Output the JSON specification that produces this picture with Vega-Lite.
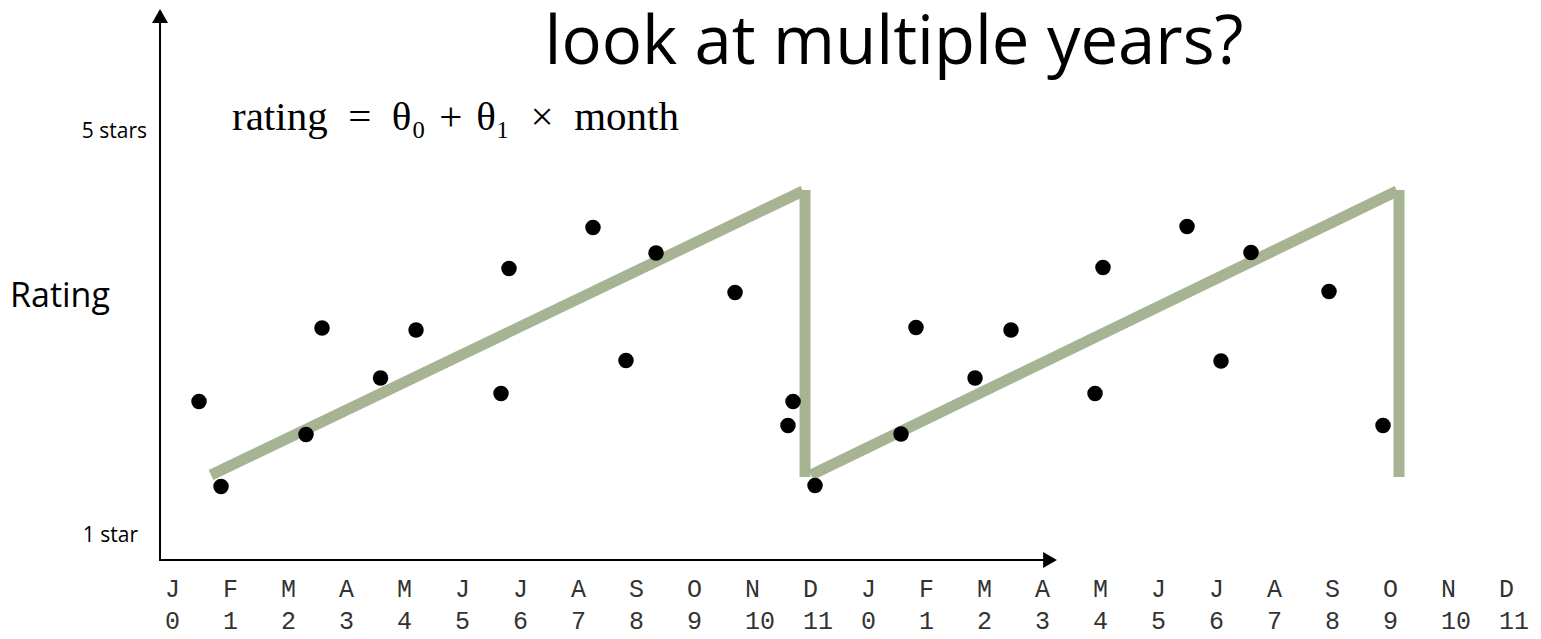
{
  "$schema": "https://vega.github.io/schema/vega-lite/v6.json",
  "width": 1541,
  "height": 639,
  "padding": 0,
  "autosize": {"type": "fit", "contains": "padding"},
  "background": "white",
  "config": {"view": {"stroke": null}},
  "datasets": {
    "pts": [
      {"month": 0.448, "rating": 2.332},
      {"month": 0.828, "rating": 1.490},
      {"month": 2.293, "rating": 2.005},
      {"month": 2.569, "rating": 3.059},
      {"month": 3.578, "rating": 2.564},
      {"month": 4.190, "rating": 3.040},
      {"month": 5.655, "rating": 2.411},
      {"month": 5.793, "rating": 3.649},
      {"month": 7.241, "rating": 4.054},
      {"month": 7.810, "rating": 2.738},
      {"month": 8.328, "rating": 3.802},
      {"month": 9.690, "rating": 3.411},
      {"month": 10.603, "rating": 2.094},
      {"month": 10.690, "rating": 2.332},
      {"month": 11.069, "rating": 1.500},
      {"month": 12.552, "rating": 2.010},
      {"month": 12.810, "rating": 3.064},
      {"month": 13.828, "rating": 2.564},
      {"month": 14.448, "rating": 3.040},
      {"month": 15.897, "rating": 2.411},
      {"month": 16.034, "rating": 3.658},
      {"month": 17.483, "rating": 4.064},
      {"month": 18.069, "rating": 2.733},
      {"month": 18.586, "rating": 3.807},
      {"month": 19.931, "rating": 3.421},
      {"month": 20.862, "rating": 2.094}
    ],
    "fit": [
      {"seg": "a", "month": 0.655, "rating": 1.604},
      {"seg": "a", "month": 10.862, "rating": 4.416},
      {"seg": "b", "month": 10.897, "rating": 4.426},
      {"seg": "b", "month": 10.897, "rating": 1.584},
      {"seg": "c", "month": 11.0, "rating": 1.604},
      {"seg": "c", "month": 21.103, "rating": 4.416},
      {"seg": "d", "month": 21.138, "rating": 4.426},
      {"seg": "d", "month": 21.138, "rating": 1.584}
    ],
    "labels": [
      {"idx": 0, "letter": "J", "num": "0"},
      {"idx": 1, "letter": "F", "num": "1"},
      {"idx": 2, "letter": "M", "num": "2"},
      {"idx": 3, "letter": "A", "num": "3"},
      {"idx": 4, "letter": "M", "num": "4"},
      {"idx": 5, "letter": "J", "num": "5"},
      {"idx": 6, "letter": "J", "num": "6"},
      {"idx": 7, "letter": "A", "num": "7"},
      {"idx": 8, "letter": "S", "num": "8"},
      {"idx": 9, "letter": "O", "num": "9"},
      {"idx": 10, "letter": "N", "num": "10"},
      {"idx": 11, "letter": "D", "num": "11"},
      {"idx": 12, "letter": "J", "num": "0"},
      {"idx": 13, "letter": "F", "num": "1"},
      {"idx": 14, "letter": "M", "num": "2"},
      {"idx": 15, "letter": "A", "num": "3"},
      {"idx": 16, "letter": "M", "num": "4"},
      {"idx": 17, "letter": "J", "num": "5"},
      {"idx": 18, "letter": "J", "num": "6"},
      {"idx": 19, "letter": "A", "num": "7"},
      {"idx": 20, "letter": "S", "num": "8"},
      {"idx": 21, "letter": "O", "num": "9"},
      {"idx": 22, "letter": "N", "num": "10"},
      {"idx": 23, "letter": "D", "num": "11"}
    ]
  },
  "layer": [
    {
      "data": {"values": [{}]},
      "mark": {"type": "rule", "color": "black", "strokeWidth": 2, "strokeCap": "square"},
      "encoding": {
        "x": {"datum": -0.224, "type": "quantitative", "scale": {"domain": [-2.983, 23.586], "nice": false, "zero": false}, "axis": null},
        "y": {"datum": 0.762, "type": "quantitative", "scale": {"domain": [-0.0198, 6.307], "nice": false, "zero": false}, "axis": null},
        "y2": {"datum": 6.11}
      }
    },
    {
      "data": {"values": [{}]},
      "mark": {"type": "rule", "color": "black", "strokeWidth": 2, "strokeCap": "square"},
      "encoding": {
        "x": {"datum": -0.224, "type": "quantitative", "scale": {"domain": [-2.983, 23.586], "nice": false, "zero": false}, "axis": null},
        "x2": {"datum": 15.03},
        "y": {"datum": 0.762, "type": "quantitative", "scale": {"domain": [-0.0198, 6.307], "nice": false, "zero": false}, "axis": null}
      }
    },
    {
      "data": {"values": [{}]},
      "mark": {"type": "point", "shape": "triangle-up", "filled": true, "color": "black", "size": 256, "opacity": 1},
      "encoding": {
        "x": {"datum": -0.224, "type": "quantitative", "scale": {"domain": [-2.983, 23.586], "nice": false, "zero": false}, "axis": null},
        "y": {"datum": 6.149, "type": "quantitative", "scale": {"domain": [-0.0198, 6.307], "nice": false, "zero": false}, "axis": null}
      }
    },
    {
      "data": {"values": [{}]},
      "mark": {"type": "point", "shape": "triangle-right", "filled": true, "color": "black", "size": 256, "opacity": 1},
      "encoding": {
        "x": {"datum": 15.121, "type": "quantitative", "scale": {"domain": [-2.983, 23.586], "nice": false, "zero": false}, "axis": null},
        "y": {"datum": 0.762, "type": "quantitative", "scale": {"domain": [-0.0198, 6.307], "nice": false, "zero": false}, "axis": null}
      }
    },
    {
      "data": {"name": "fit"},
      "mark": {"type": "line", "color": "#a6b493", "strokeWidth": 11, "strokeCap": "butt"},
      "encoding": {
        "x": {"field": "month", "type": "quantitative", "scale": {"domain": [-2.983, 23.586], "nice": false, "zero": false}, "axis": null},
        "y": {"field": "rating", "type": "quantitative", "scale": {"domain": [-0.0198, 6.307], "nice": false, "zero": false}, "axis": null},
        "detail": {"field": "seg"},
        "order": {"field": "rating", "type": "quantitative", "sort": "ascending"}
      }
    },
    {
      "data": {"name": "pts"},
      "mark": {"type": "point", "shape": "circle", "filled": true, "color": "black", "size": 240, "opacity": 1},
      "encoding": {
        "x": {"field": "month", "type": "quantitative", "scale": {"domain": [-2.983, 23.586], "nice": false, "zero": false}, "axis": null},
        "y": {"field": "rating", "type": "quantitative", "scale": {"domain": [-0.0198, 6.307], "nice": false, "zero": false}, "axis": null}
      }
    },
    {
      "data": {"name": "labels"},
      "mark": {"type": "text", "font": "Liberation Mono", "fontSize": 25, "align": "left", "baseline": "alphabetic", "dx": -8, "color": "#333333"},
      "encoding": {
        "x": {"field": "idx", "type": "quantitative", "scale": {"domain": [-2.983, 23.586], "nice": false, "zero": false}, "axis": null},
        "y": {"datum": 0.396, "type": "quantitative", "scale": {"domain": [-0.0198, 6.307], "nice": false, "zero": false}, "axis": null},
        "text": {"field": "letter"}
      }
    },
    {
      "data": {"name": "labels"},
      "mark": {"type": "text", "font": "Liberation Mono", "fontSize": 25, "align": "left", "baseline": "alphabetic", "dx": -8, "color": "#333333"},
      "encoding": {
        "x": {"field": "idx", "type": "quantitative", "scale": {"domain": [-2.983, 23.586], "nice": false, "zero": false}, "axis": null},
        "y": {"datum": 0.075, "type": "quantitative", "scale": {"domain": [-0.0198, 6.307], "nice": false, "zero": false}, "axis": null},
        "text": {"field": "num"}
      }
    },
    {
      "data": {"values": [{"t": "look at multiple years?"}]},
      "mark": {"type": "text", "font": "Open Sans", "fontSize": 67, "align": "center", "baseline": "alphabetic", "color": "black"},
      "encoding": {
        "x": {"datum": 12.431, "type": "quantitative", "scale": {"domain": [-2.983, 23.586], "nice": false, "zero": false}, "axis": null},
        "y": {"datum": 5.673, "type": "quantitative", "scale": {"domain": [-0.0198, 6.307], "nice": false, "zero": false}, "axis": null},
        "text": {"field": "t"}
      }
    },
    {
      "data": {"values": [{"t": "rating\u2002=\u2002θ₀\u2004+\u2004θ₁\u2002×\u2002month"}]},
      "mark": {"type": "text", "font": "Liberation Serif", "fontSize": 41, "align": "left", "baseline": "alphabetic", "color": "black"},
      "encoding": {
        "x": {"datum": 1.017, "type": "quantitative", "scale": {"domain": [-2.983, 23.586], "nice": false, "zero": false}, "axis": null},
        "y": {"datum": 5.02, "type": "quantitative", "scale": {"domain": [-0.0198, 6.307], "nice": false, "zero": false}, "axis": null},
        "text": {"field": "t"}
      }
    },
    {
      "data": {"values": [{"t": "Rating"}]},
      "mark": {"type": "text", "font": "Open Sans", "fontSize": 34, "align": "left", "baseline": "alphabetic", "color": "black"},
      "encoding": {
        "x": {"datum": -2.81, "type": "quantitative", "scale": {"domain": [-2.983, 23.586], "nice": false, "zero": false}, "axis": null},
        "y": {"datum": 3.267, "type": "quantitative", "scale": {"domain": [-0.0198, 6.307], "nice": false, "zero": false}, "axis": null},
        "text": {"field": "t"}
      }
    },
    {
      "data": {"values": [{"t": "5 stars", "m": -0.448, "r": 4.941}, {"t": "1 star", "m": -0.603, "r": 0.941}]},
      "mark": {"type": "text", "font": "Open Sans", "fontSize": 21, "align": "right", "baseline": "alphabetic", "color": "black"},
      "encoding": {
        "x": {"field": "m", "type": "quantitative", "scale": {"domain": [-2.983, 23.586], "nice": false, "zero": false}, "axis": null},
        "y": {"field": "r", "type": "quantitative", "scale": {"domain": [-0.0198, 6.307], "nice": false, "zero": false}, "axis": null},
        "text": {"field": "t"}
      }
    }
  ]
}
